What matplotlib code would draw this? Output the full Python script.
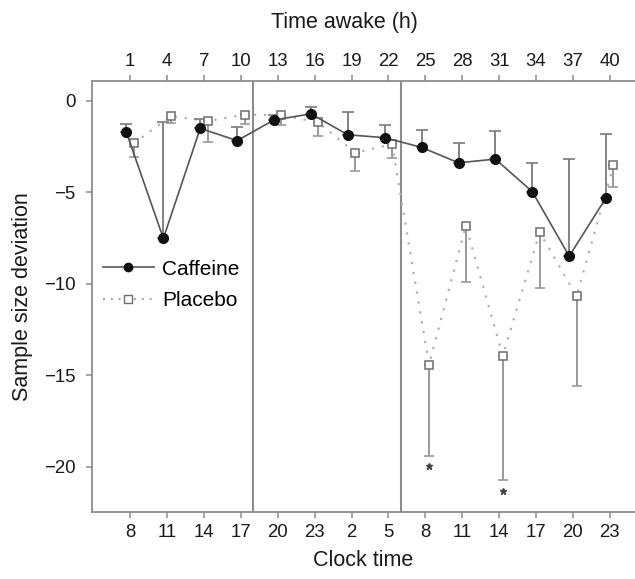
import numpy as np
import matplotlib
matplotlib.use('Agg')
import matplotlib.pyplot as plt

# values
hours_awake = [1, 4, 7, 10, 13, 16, 19, 22, 25, 28, 31, 34, 37, 40]
clock_time = [8, 11, 14, 17, 20, 23, 2, 5, 8, 11, 14, 17, 20, 23]

caffeine = [-1.73, -7.52, -1.51, -2.18, -1.05, -0.72, -1.86, -2.02,
            -2.55, -3.39, -3.19, -4.97, -8.49, -5.30]
caffeine_upper = [-1.27, -1.15, -1.02, -1.46, -0.80, -0.36, -0.64, -1.33,
                  -1.60, -2.33, -1.64, -3.39, -3.19, -1.82]

placebo = [-2.33, -0.84, -1.11, -0.76, -0.79, -1.18, -2.84, -2.38,
           -14.41, -6.83, -13.94, -7.19, -10.67, -3.53]
placebo_lower = [-3.09, -1.24, -2.24, -1.28, -1.33, -1.91, -3.82, -3.11,
                 -19.41, -9.89, -20.73, -10.25, -15.57, -4.70]

star_hours = [25, 31]
star_y = [-19.95, -21.3]

divider_hours = [11, 23]

plt.rcParams['font.family'] = ['Liberation Sans', 'DejaVu Sans']

fig = plt.figure(figsize=(6.35, 5.79), dpi=100)
ax = fig.add_axes([0.1449, 0.1162, 0.8551, 0.744])

h = np.array(hours_awake, dtype=float)
caf = np.array(caffeine)
pla = np.array(placebo)
caf_err = np.array(caffeine_upper) - caf
pla_err = pla - np.array(placebo_lower)

grey = '#8c8c8c'

for d in divider_hours:
    ax.axvline(d, color=grey, lw=1.5, zorder=1)

# placebo: dotted line, open squares, error bars below
ax.errorbar(h + 0.3, pla, yerr=[pla_err, np.zeros_like(pla_err)],
            fmt='none', ecolor='#999999', elinewidth=1.4, capsize=3.3,
            capthick=1.2, zorder=2)
ax.plot(h + 0.3, pla, linestyle=(0, (1, 3.5)), color='#b0b0b0', lw=1.6,
        zorder=2)
ax.plot(h + 0.3, pla, linestyle='none', marker='s', markersize=6.2,
        markerfacecolor='white', markeredgecolor='#6e6e6e',
        markeredgewidth=1.1, zorder=4)

# caffeine: solid line, filled circles, error bars above
ax.errorbar(h - 0.3, caf, yerr=[np.zeros_like(caf_err), caf_err],
            fmt='none', ecolor='#7a7a7a', elinewidth=1.3, capsize=4,
            capthick=1.2, zorder=3)
ax.plot(h - 0.3, caf, '-', color='#555555', lw=1.2, zorder=5)
ax.plot(h - 0.3, caf, linestyle='none', marker='o', markersize=7,
        color='#111111', zorder=6)

ax.plot(np.array(star_hours) + 0.3, star_y, linestyle='none', marker='*',
        markersize=5, color='#444444', zorder=4)

# legend handles
caf_handle = plt.Line2D([], [], color='#555555', lw=1.2, marker='o',
                        markersize=6, markerfacecolor='#111111',
                        markeredgecolor='#111111')
pla_handle = plt.Line2D([], [], color='#a0a0a0', lw=1.4,
                        linestyle=(0, (1, 3)), marker='s', markersize=5.5,
                        markerfacecolor='white', markeredgecolor='#6e6e6e')
ax.legend([caf_handle, pla_handle], ['Caffeine', 'Placebo'],
          loc='upper left', bbox_to_anchor=(0.02, 0.585), frameon=False,
          fontsize=15, handlelength=2.45, handletextpad=0.4,
          labelspacing=0.6, borderpad=0, borderaxespad=0)

ax.set_xlim(-2.1, 42.05)
ax.set_ylim(-22.45, 1.08)

ax.set_yticks([0, -5, -10, -15, -20])
ax.set_yticklabels(['0', '\u22125', '\u221210', '\u221215', '\u221220'])
ax.set_xticks(hours_awake)
ax.set_xticklabels([str(c) for c in clock_time])

ax.tick_params(axis='both', colors=grey, labelcolor='#1a1a1a',
               labelsize=13.4, width=1.1)
ax.tick_params(axis='x', length=4, pad=5)
ax.tick_params(axis='y', length=4, pad=8)

for side in ['left', 'bottom', 'top']:
    ax.spines[side].set_color(grey)
    ax.spines[side].set_linewidth(1.3)
ax.spines['right'].set_visible(False)

ax.set_xlabel('Clock time', fontsize=15.5, labelpad=6, color='#1a1a1a')
ax.set_ylabel('Sample size deviation', fontsize=15.5, labelpad=8,
              color='#1a1a1a')

top = ax.twiny()
top.set_xlim(ax.get_xlim())
top.set_xticks(hours_awake)
top.set_xticklabels([str(v) for v in hours_awake])
top.tick_params(axis='x', colors=grey, labelcolor='#1a1a1a',
                labelsize=13.4, width=1.1, length=4, pad=4)
for side in ['left', 'bottom', 'top', 'right']:
    top.spines[side].set_visible(False)
top.set_xlabel('Time awake (h)', fontsize=15.5, color='#1a1a1a')
top.xaxis.set_label_coords(0.464, 1.135)
top.xaxis.label.set_verticalalignment('center')

fig.savefig('out.png', dpi=100)
